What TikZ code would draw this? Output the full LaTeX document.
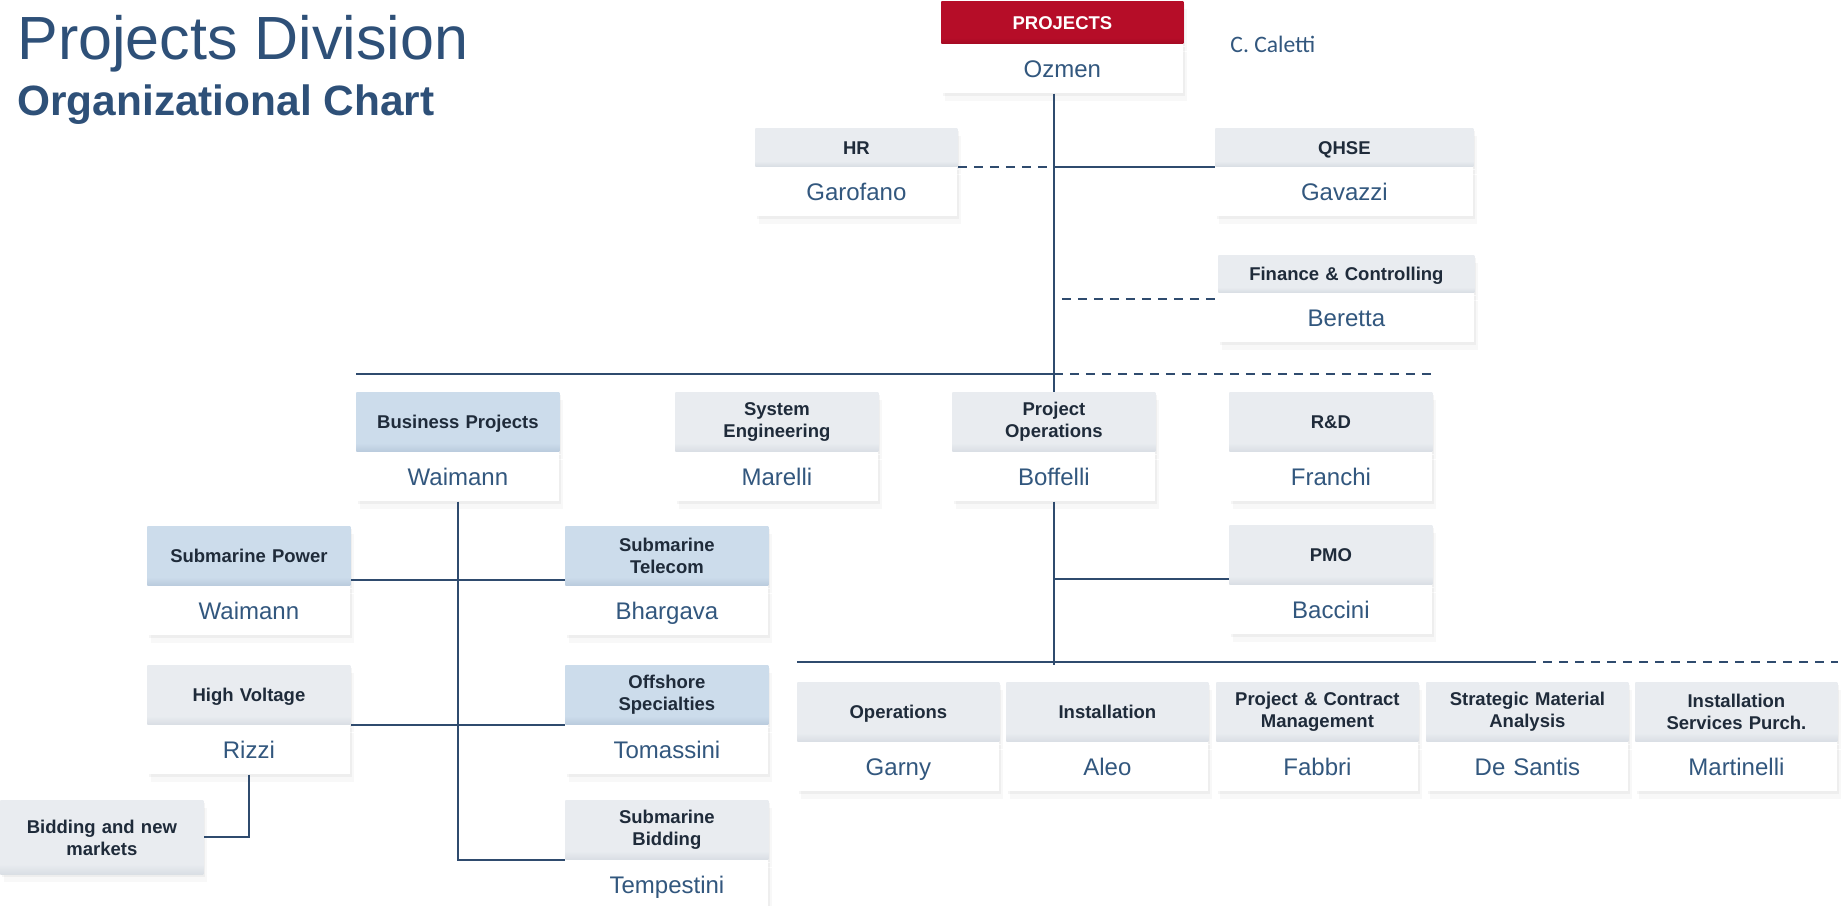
\documentclass[tikz,border=0pt]{standalone}
\usepackage{fontspec}
\setmainfont{Liberation Sans}
\newfontfamily\calfont{Carlito}
\usepackage{tikz}
\usetikzlibrary{shapes, positioning, shadows, calc}

\definecolor{titleblue}{HTML}{2E5078}
\definecolor{nameblue}{HTML}{32577E}
\definecolor{linkblue}{HTML}{2F4B6E}
\definecolor{headtext}{HTML}{1F2B3A}
\definecolor{headtop}{HTML}{E9ECF0}
\definecolor{headbot}{HTML}{D9DEE4}
\definecolor{bluetop}{HTML}{CCDCEB}
\definecolor{bluebot}{HTML}{BACBDD}
\definecolor{redtop}{HTML}{B60D28}
\definecolor{redbot}{HTML}{A50A23}
\pgfdeclareverticalshading{grayhead}{100bp}{color(0bp)=(headbot); color(25bp)=(headbot); color(32bp)=(headtop); color(100bp)=(headtop)}
\pgfdeclareverticalshading{bluehead}{100bp}{color(0bp)=(bluebot); color(25bp)=(bluebot); color(32bp)=(bluetop); color(100bp)=(bluetop)}
\pgfdeclareverticalshading{redhead}{100bp}{color(0bp)=(redbot); color(25bp)=(redbot); color(32bp)=(redtop); color(100bp)=(redtop)}

\begin{document}
\begin{tikzpicture}[x=0.5pt, y=-0.5pt, node distance = 0pt,
        soft/.style={drop shadow={opacity=0.06, shadow xshift=2pt, shadow yshift=-4pt},
            drop shadow={opacity=0.08, shadow xshift=1pt, shadow yshift=-1.5pt}},
        head/.style={rectangle, anchor=north west, inner sep=0pt, text width=101.5pt, minimum height=29.5pt,
            align=center, font=\fontsize{9.25}{11}\selectfont\bfseries, text=headtext,
            shading=grayhead, soft},
        bluehead/.style={head, shading=bluehead},
        redhead/.style={head, shading=redhead, text=white},
        oneline/.style={text height=6.6pt, text depth=0pt},
        lead/.style={rectangle, inner sep=0pt, text width=101.5pt, minimum height=24.5pt, align=center,
            text height=8.6pt, text depth=0pt,
            fill=white, font=\fontsize{12}{14}\selectfont, text=nameblue, soft},
        line/.style={draw=linkblue, line width=1pt},
        dline/.style={line, dash pattern=on 4.5pt off 3.5pt}
    ]
        \clip (0,0) rectangle (1845,905);
        % Title
        \node[anchor=base west, inner sep=0pt, font=\fontsize{30.5}{36}\selectfont, text=titleblue] (title) at (17,59) {Projects Division};
        \node[anchor=base west, inner sep=0pt, font=\fontsize{21.2}{25}\selectfont\bfseries, text=titleblue] (subtitle) at (17,115) {Organizational Chart};
        % Head of division
        \node[redhead, oneline, text width=121pt, minimum height=21pt] (projects) at (941,1) {PROJECTS};
        \node[lead, text width=121pt, below=0pt of projects] (projects_lead) {Ozmen};
        \node[anchor=base west, inner sep=0pt, font=\calfont\fontsize{11.8}{14}\selectfont, text=nameblue] (deputy) at (1230,52) {C. Caletti};
        % Staff units
        \node[head, oneline, text width=101pt, minimum height=19pt] (hr) at (755,128) {HR};
        \node[lead, text width=101pt, below=0pt of hr] (hr_lead) {Garofano};
        \node[head, oneline, text width=129pt, minimum height=19pt] (qhse) at (1215,128) {QHSE};
        \node[lead, text width=129pt, below=0pt of qhse] (qhse_lead) {Gavazzi};
        \node[head, oneline, text width=128pt, minimum height=18.5pt] (finance) at (1218,255) {Finance \& Controlling};
        \node[lead, text width=128pt, below=0pt of finance] (finance_lead) {Beretta};
        % Line units
        \node[bluehead, oneline] (business) at (356,392) {Business Projects};
        \node[lead, below=0pt of business] (business_lead) {Waimann};
        \node[head] (sys_eng) at (675,392) {System\\Engineering};
        \node[lead, below=0pt of sys_eng] (sys_eng_lead) {Marelli};
        \node[head] (project_ops) at (952,392) {Project\\Operations};
        \node[lead, below=0pt of project_ops] (project_ops_lead) {Boffelli};
        \node[head, oneline] (rnd) at (1229,392) {R\&D};
        \node[lead, below=0pt of rnd] (rnd_lead) {Franchi};
        \node[head, oneline] (pmo) at (1229,525) {PMO};
        \node[lead, below=0pt of pmo] (pmo_lead) {Baccini};
        % Business projects
        \node[bluehead, oneline] (sub_power) at (147,526) {Submarine Power};
        \node[lead, below=0pt of sub_power] (sub_power_lead) {Waimann};
        \node[bluehead] (sub_telecom) at (565,526) {Submarine\\Telecom};
        \node[lead, below=0pt of sub_telecom] (sub_telecom_lead) {Bhargava};
        \node[head, oneline] (high_voltage) at (147,665) {High Voltage};
        \node[lead, below=0pt of high_voltage] (high_voltage_lead) {Rizzi};
        \node[bluehead] (offshore) at (565,665) {Offshore\\Specialties};
        \node[lead, below=0pt of offshore] (offshore_lead) {Tomassini};
        \node[head] (sub_bidding) at (565,800) {Submarine\\Bidding};
        \node[lead, below=0pt of sub_bidding] (sub_bidding_lead) {Tempestini};
        \node[head, minimum height=37pt] (bidding) at (0,800) {Bidding and new\\markets};
        % Project operations
        \node[head, oneline, text width=101pt] (operations) at (797,682) {Operations};
        \node[lead, text width=101pt, below=0pt of operations] (operations_lead) {Garny};
        \node[head, oneline, text width=101pt] (installation) at (1006,682) {Installation};
        \node[lead, text width=101pt, below=0pt of installation] (installation_lead) {Aleo};
        \node[head, text width=101pt] (contract) at (1216,682) {Project \& Contract\\Management};
        \node[lead, text width=101pt, below=0pt of contract] (contract_lead) {Fabbri};
        \node[head, text width=101pt] (strategic) at (1426,682) {Strategic Material\\Analysis};
        \node[lead, text width=101pt, below=0pt of strategic] (strategic_lead) {De Santis};
        \node[head, text width=101pt] (inst_purch) at (1635,682) {Installation\\Services Purch.};
        \node[lead, text width=101pt, below=0pt of inst_purch] (inst_purch_lead) {Martinelli};
        % Connections
        \coordinate (topbar) at (0,374);
        \coordinate (lowbar) at (0,662);
        \path[line] (projects_lead.south -| project_ops.north) -- (project_ops.north);
        \path[dline] (hr.south east) -- (hr.south east -| project_ops.north);
        \path[line] (qhse.south west -| project_ops.north) -- (qhse.south west);
        \path[dline] ($(finance.south west -| project_ops.north)+(8,6)$) -- ($(finance.south west)+(0,6)$);
        \path[line] (business.north west |- topbar) -- (project_ops.north |- topbar);
        \path[dline] (project_ops.north |- topbar) -- (rnd.north east |- topbar);
        \path[line] (business_lead.south) |- (sub_bidding.south west);
        \path[line] ($(sub_power.south east)+(0,-6)$) -- ($(sub_telecom.south west)+(0,-6)$);
        \path[line] (high_voltage.south east) -- (offshore.south west);
        \path[line] (high_voltage_lead.south) |- (bidding.east);
        \path[line] ($(pmo.south west -| project_ops.north)+(0,-6)$) -- ($(pmo.south west)+(0,-6)$);
        \path[line] (project_ops_lead.south) -- ($(project_ops_lead.south |- lowbar)+(0,3)$);
        \path[line] (operations.north west |- lowbar) -- (strategic.north |- lowbar);
        \path[dline] (strategic.north |- lowbar) -- (inst_purch.north east |- lowbar);

    \end{tikzpicture}
\end{document}
